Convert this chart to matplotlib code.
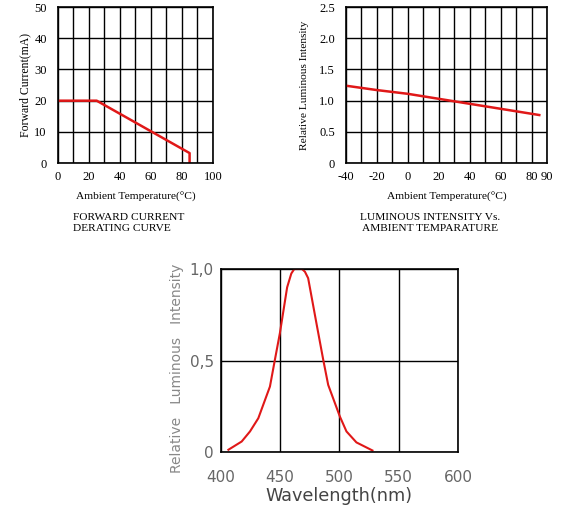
import matplotlib.pyplot as plt

# forward current derating
temp1 = [0, 25, 85, 85]
current = [20, 20, 3.2, 0]

# luminous intensity vs ambient temperature
temp2 = [-40, -20, 0, 25, 50, 70, 85]
rel_int = [1.24, 1.17, 1.11, 1.01, 0.91, 0.83, 0.77]

# spectrum
wl = [406.5, 417.7, 424.7, 431.7, 441.5, 445.7, 449.9, 456, 459.5, 462, 465,
      468.5, 471, 473.7, 480.8, 486.4, 490.6, 500.4, 506, 514.4, 527.9]
spec = [0.013, 0.058, 0.113, 0.185, 0.358, 0.505, 0.65, 0.90, 0.975, 1.0, 1.0,
        1.0, 0.985, 0.95, 0.70, 0.505, 0.367, 0.195, 0.113, 0.053, 0.009]

red = '#e01818'
serif = 'Liberation Serif'

fig = plt.figure(figsize=(5.63, 5.08), dpi=100)

def grid_axes(ax):
    ax.grid(True, color='black', linewidth=1.0)
    ax.set_axisbelow(True)
    for s in ax.spines.values():
        s.set_linewidth(1.2)
    ax.tick_params(length=0)
    for lab in ax.get_xticklabels() + ax.get_yticklabels():
        lab.set_fontfamily(serif)
        lab.set_fontsize(9)

# chart 1
ax1 = fig.add_axes([0.103, 0.679, 0.275, 0.307])
ax1.plot(temp1, current, color=red, linewidth=1.8)
ax1.set_xlim(0, 100)
ax1.set_ylim(0, 50)
ax1.set_xticks(range(0, 101, 10))
ax1.set_xticklabels([str(v) if v % 20 == 0 else '' for v in range(0, 101, 10)])
ax1.set_yticks(range(0, 51, 10))
ax1.tick_params(axis='x', pad=6)
ax1.tick_params(axis='y', pad=8)
grid_axes(ax1)
ax1.set_ylabel('Forward Current(mA)', fontfamily=serif, fontsize=8.5, labelpad=2)
ax1.set_xlabel('Ambient Temperature(°C)', fontfamily=serif, fontsize=8.2, labelpad=6)
fig.text(73 / 563, 1 - 223 / 508, 'FORWARD CURRENT\nDERATING CURVE',
         fontfamily=serif, fontsize=8.2, ha='left', va='center', linespacing=1.3)

# chart 2
ax2 = fig.add_axes([0.6146, 0.679, 0.357, 0.307])
ax2.plot(temp2, rel_int, color=red, linewidth=1.8)
ax2.set_xlim(-40, 90)
ax2.set_ylim(0, 2.5)
ax2.set_xticks(range(-40, 91, 10))
ax2.set_xticklabels([str(v) if v in (-40, -20, 0, 20, 40, 60, 80, 90) else ''
                     for v in range(-40, 91, 10)])
ax2.set_yticks([0, 0.5, 1.0, 1.5, 2.0, 2.5])
ax2.set_yticklabels(['0', '0.5', '1.0', '1.5', '2.0', '2.5'])
ax2.tick_params(axis='x', pad=6)
ax2.tick_params(axis='y', pad=8)
grid_axes(ax2)
ax2.set_ylabel('Relative Luminous Intensity', fontfamily=serif, fontsize=8.2, labelpad=7)
ax2.set_xlabel('Ambient Temperature(°C)', fontfamily=serif, fontsize=8.2, labelpad=6)
fig.text(430 / 563, 1 - 223 / 508, 'LUMINOUS INTENSITY Vs.\nAMBIENT TEMPARATURE',
         fontfamily=serif, fontsize=8.2, ha='center', va='center', linespacing=1.3)

# chart 3
ax3 = fig.add_axes([0.392, 0.110, 0.4215, 0.3605])
ax3.plot(wl, spec, color=red, linewidth=1.5)
ax3.set_xlim(400, 600)
ax3.set_ylim(0, 1)
ax3.set_xticks([400, 450, 500, 550, 600])
ax3.set_yticks([0, 0.5, 1.0])
ax3.set_yticklabels(['0', '0,5', '1,0'])
ax3.grid(True, color='black', linewidth=1.0)
for s in ax3.spines.values():
    s.set_linewidth(1.2)
ax3.tick_params(length=0, labelsize=11, labelcolor='#666666')
ax3.tick_params(axis='x', pad=13)
ax3.tick_params(axis='y', pad=5)
ax3.set_xlabel('Wavelength(nm)', fontsize=12.7, color='#444444', labelpad=1)
ax3.set_ylabel('Relative   Luminous   Intensity', fontsize=10, color='#888888')
ax3.yaxis.set_label_coords(-0.155, 0.46)

fig.savefig('out.png', dpi=100)
